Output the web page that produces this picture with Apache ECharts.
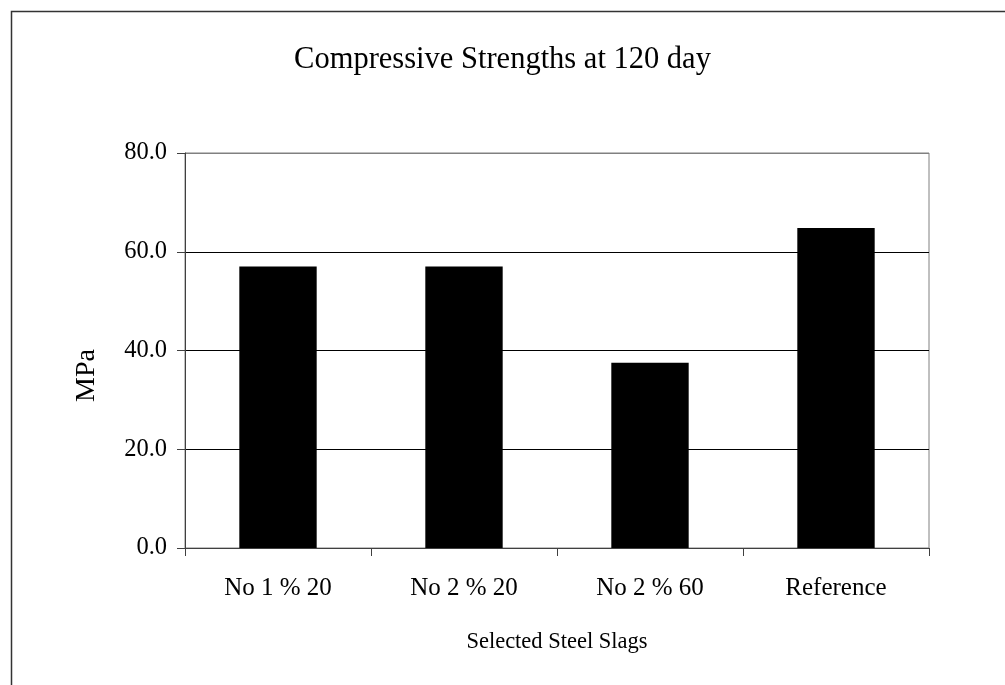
<!DOCTYPE html>
<html>
<head>
<meta charset="utf-8">
<script src="https://cdn.jsdelivr.net/npm/echarts@6/dist/echarts.min.js"></script>
<style>
html,body{margin:0;padding:0;background:#fff;}
#chart{width:1005px;height:685px;}
</style>
</head>
<body>
<div id="chart"></div>
<script>
const categories = ['No 1 % 20', 'No 2 % 20', 'No 2 % 60', 'Reference'];
const strengths = [57.0, 57.0, 37.5, 64.8];
const yTicks = { min: 0, max: 80, interval: 20 };
const titleText = 'Compressive Strengths at 120 day';
const xName = 'Selected Steel Slags';
const yName = 'MPa';

const FONT = 'Liberation Serif';
const chart = echarts.init(document.getElementById('chart'), null, { renderer: 'canvas' });
chart.setOption({
  backgroundColor: '#fff',
  animation: false,
  graphic: [{
    type: 'rect',
    shape: { x: 11.5, y: 11.5, width: 1100, height: 800 },
    style: { fill: 'none', stroke: '#333', lineWidth: 1.5 },
    silent: true
  }],
  title: {
    text: titleText,
    left: 'center',
    top: 39,
    textStyle: { fontFamily: FONT, fontSize: 30.5, fontWeight: 'normal', color: '#000' }
  },
  grid: {
    left: 185, top: 153, right: 76, bottom: 137,
    show: true, borderColor: '#808080', borderWidth: 1, backgroundColor: 'transparent'
  },
  xAxis: {
    type: 'category',
    data: categories,
    name: xName,
    nameLocation: 'middle',
    nameGap: 83,
    nameTextStyle: { fontFamily: FONT, fontSize: 22.5, color: '#000' },
    axisLine: { show: true, lineStyle: { color: '#404040', width: 1 } },
    axisTick: { show: true, length: 8, inside: false, alignWithLabel: false, lineStyle: { color: '#404040' } },
    axisLabel: { fontFamily: FONT, fontSize: 25, color: '#000', margin: 28 },
    splitLine: { show: false }
  },
  yAxis: {
    type: 'value',
    min: yTicks.min, max: yTicks.max, interval: yTicks.interval,
    name: yName,
    nameLocation: 'middle',
    nameGap: 84,
    nameRotate: 90,
    nameTextStyle: { fontFamily: FONT, fontSize: 28, color: '#000', padding: [0, 50, 0, 0] },
    axisLine: { show: true, lineStyle: { color: '#404040', width: 1 } },
    axisTick: { show: true, length: 8, inside: false, lineStyle: { color: '#404040' } },
    axisLabel: { fontFamily: FONT, fontSize: 24.5, color: '#000', margin: 18, formatter: v => v.toFixed(1) },
    splitLine: { show: true, lineStyle: { color: ['transparent', '#000', '#000', '#000', '#808080'], width: 1 } }
  },
  series: [{
    type: 'bar',
    data: strengths,
    barWidth: '41.6%',
    itemStyle: { color: '#000' }
  }]
});
</script>
</body>
</html>
